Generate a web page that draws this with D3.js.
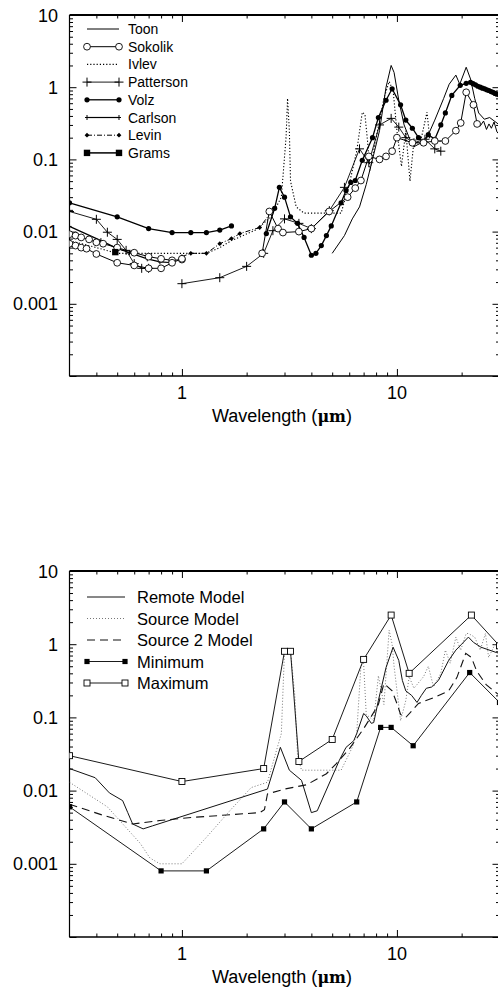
<!DOCTYPE html>
<html><head><meta charset="utf-8">
<script src="https://cdn.jsdelivr.net/npm/d3@7"></script>
<style>
html,body{margin:0;padding:0;background:#fff;}
svg{display:block;}
text{font-family:"Liberation Sans",Arial,Helvetica,sans-serif;fill:#000;}
</style></head><body>
<svg id="c" width="498" height="988"></svg>
<script>
// ---------------- data ----------------
const xDomain = [0.3, 30];
const yDomain = [1e-4, 10];
const xTickLabels = [1, 10];
const yTickLabels = [10, 1, 0.1, 0.01, 0.001];
const axisTitle = "Wavelength (";
const axisUnit = "\u03bcm";

// top panel (wavelength um, imaginary index)
const toon = [[5.0,0.005],[5.7,0.0088],[6.2,0.015],[6.7,0.022],[7.2,0.045],[7.7,0.1],[8.3,0.25],[8.9,1.0],[9.4,2.0],[9.7,1.6],[10.2,0.66],[10.8,0.3],[11.4,0.2],[12.0,0.15],[13.0,0.17],[14.0,0.22],[15.0,0.35],[16.5,0.7],[17.5,1.1],[18.8,1.47],[19.6,1.1],[21.0,1.89],[22.0,1.3],[23.0,0.7],[24.0,0.44],[25.5,0.36],[27.0,0.38],[30.0,0.3]];
const sokolikA = [[0.3,0.0092],[0.32,0.0088],[0.34,0.0083],[0.37,0.0078],[0.4,0.0071],[0.43,0.0068],[0.5,0.006],[0.6,0.0051],[0.7,0.0045],[0.8,0.0042],[0.9,0.004],[1.0,0.0041]];
const sokolikB = [[0.3,0.0068],[0.32,0.0064],[0.34,0.006],[0.36,0.0058],[0.4,0.0049],[0.5,0.0037],[0.6,0.0034],[0.7,0.0031],[0.8,0.0031],[0.9,0.0037],[1.0,0.0042]];
const sokolikIR = [[2.36,0.005],[2.55,0.019],[2.8,0.011],[2.95,0.0097],[3.5,0.01],[4.0,0.011],[4.84,0.019],[5.9,0.03],[6.4,0.04],[6.8,0.051],[7.4,0.11],[8.3,0.1],[8.9,0.11],[9.5,0.13],[10.0,0.2],[11.8,0.17],[13.3,0.17],[15.0,0.18],[16.8,0.18],[18.8,0.25],[19.8,0.32],[21.0,0.85],[22.7,0.57],[23.6,0.31]];
const sokolikTail = [[23.6,0.31],[24.4,0.29],[25.3,0.34],[26.1,0.26],[26.8,0.31],[27.5,0.27],[28.3,0.33],[29.2,0.24],[30.0,0.22]];
const ivlev = [[0.3,0.0075],[0.4,0.006],[0.5,0.005],[0.8,0.005],[1.0,0.005],[1.3,0.005],[1.5,0.006],[1.7,0.0075],[2.2,0.0105],[2.6,0.016],[2.9,0.03],[3.05,0.2],[3.1,0.7],[3.16,0.25],[3.2,0.05],[3.4,0.022],[3.7,0.018],[5.5,0.018],[6.0,0.045],[6.5,0.13],[6.9,0.45],[7.1,0.42],[7.3,0.18],[7.5,0.07],[8.0,0.2],[8.7,0.7],[9.2,1.2],[9.6,0.9],[10.0,0.25],[10.5,0.08],[11.0,0.25],[11.5,0.05],[12.0,0.18],[13.0,0.2],[13.8,0.45],[14.2,0.2],[15.0,0.17],[16.0,0.18]];
const pattersonVis = [[0.3,0.019],[0.4,0.0148],[0.45,0.0098],[0.5,0.0078],[0.55,0.0055],[0.6,0.0036],[0.65,0.0031],[0.7,0.0031]];
const pattersonIR = [[1.0,0.0019],[1.5,0.0023],[2.0,0.0033],[2.4,0.005],[2.65,0.0103],[3.0,0.015],[3.5,0.013],[4.0,0.011],[4.85,0.0195],[5.7,0.041],[6.7,0.14],[7.4,0.09],[8.3,0.3],[9.4,0.37],[10.2,0.28],[11.0,0.2],[12.0,0.17],[13.5,0.19],[15.0,0.14],[16.0,0.13]];
const volzVis = [[0.3,0.025],[0.5,0.016],[0.7,0.011],[0.9,0.0097],[1.1,0.0097],[1.3,0.0097],[1.5,0.0105],[1.7,0.012]];
const volzIR = [[2.47,0.0094],[2.7,0.021],[2.84,0.041],[3.0,0.03],[3.2,0.016],[3.45,0.013],[3.7,0.0083],[4.0,0.0047],[4.2,0.005],[4.45,0.0064],[4.7,0.0088],[4.95,0.012],[5.5,0.025],[5.8,0.037],[6.1,0.048],[6.4,0.051],[6.9,0.097],[7.7,0.2],[8.2,0.38],[8.9,0.66],[9.5,0.95],[10.4,0.57],[11.0,0.35],[11.8,0.27],[12.6,0.2],[13.3,0.17],[14.0,0.22],[15.0,0.19],[16.0,0.3],[16.8,0.44],[18.0,0.77],[19.7,1.06],[21.0,1.13],[22.0,1.17],[22.6,1.12],[23.2,1.08],[23.8,1.03],[24.4,1.0],[25.0,0.97],[25.6,0.95],[26.2,0.92],[26.8,0.9],[27.4,0.87],[28.0,0.85],[28.6,0.82],[29.2,0.8],[30.0,0.78]];
const carlson = [[0.3,0.0118],[0.42,0.0075],[0.49,0.006],[0.57,0.0051],[0.69,0.0042],[0.79,0.0038],[0.91,0.0037]];
const levin = [[1.0,0.0045],[1.1,0.005],[1.3,0.005],[1.5,0.0068],[1.7,0.008],[1.86,0.0094],[2.3,0.0114],[2.6,0.0186]];
const grams = [[0.49,0.0052]];

// bottom panel
const remote = [[0.3,0.02],[0.395,0.015],[0.46,0.0093],[0.53,0.0073],[0.56,0.005],[0.59,0.0035],[0.66,0.003],[0.73,0.0033],[2.5,0.0105],[2.87,0.039],[3.16,0.019],[3.6,0.0138],[4.0,0.005],[4.26,0.0053],[5.4,0.026],[5.8,0.039],[6.3,0.048],[6.5,0.06],[7.0,0.113],[7.2,0.105],[7.6,0.083],[7.8,0.085],[8.2,0.17],[8.9,0.48],[9.6,0.91],[10.2,0.6],[10.6,0.32],[11.0,0.23],[11.7,0.2],[12.4,0.16],[13.0,0.2],[13.7,0.25],[14.5,0.26],[15.6,0.32],[17.4,0.6],[18.8,0.83],[20.0,1.0],[21.5,1.25],[22.7,1.06],[24.6,0.91],[29.0,0.77],[30.0,0.75]];
const source = [[0.3,0.013],[0.45,0.006],[0.64,0.0019],[0.71,0.0012],[0.79,0.001],[1.0,0.001],[1.3,0.0023],[1.67,0.0053],[2.1,0.011],[2.5,0.013],[2.75,0.035],[2.9,0.06],[3.0,0.8],[3.2,0.8],[3.35,0.2],[3.45,0.03],[3.6,0.019],[5.5,0.019],[6.2,0.039],[6.5,0.06],[6.8,0.5],[7.0,0.55],[7.2,0.11],[7.8,0.09],[8.2,0.37],[8.7,0.15],[9.2,1.55],[9.5,1.0],[9.7,0.5],[10.4,0.09],[11.0,0.17],[11.4,0.36],[12.0,0.25],[13.3,0.36],[14.0,0.5],[14.8,0.26],[16.0,0.4],[16.8,0.83],[17.7,0.55],[18.8,1.25],[19.8,0.83],[21.0,1.4],[21.5,1.4],[23.0,1.25],[24.4,0.83],[25.8,1.4],[26.7,0.66],[28.6,1.0],[30.0,0.8]];
const source2 = [[0.3,0.0065],[0.43,0.0046],[0.59,0.0035],[0.79,0.0039],[1.12,0.0043],[2.3,0.005],[2.42,0.0055],[2.5,0.009],[3.0,0.0105],[3.8,0.012],[4.7,0.017],[5.2,0.023],[6.0,0.037],[7.0,0.07],[7.7,0.11],[8.2,0.15],[8.7,0.29],[9.5,0.23],[10.0,0.155],[10.4,0.11],[11.0,0.1],[12.6,0.155],[15.1,0.19],[17.4,0.23],[19.0,0.35],[20.9,0.75],[22.2,0.66],[23.5,0.43],[26.0,0.28],[30.0,0.2]];
const minimum = [[0.3,0.006],[0.8,0.0008],[1.3,0.0008],[2.4,0.003],[3.0,0.007],[4.0,0.003],[6.5,0.007],[8.4,0.073],[9.4,0.073],[11.9,0.041],[21.8,0.41],[30.0,0.16]];
const maximum = [[0.3,0.03],[1.0,0.0133],[2.4,0.02],[3.0,0.8],[3.2,0.8],[3.5,0.025],[5.0,0.05],[7.0,0.62],[9.4,2.5],[11.4,0.4],[22.2,2.5],[30.0,0.95]];

const topNames = ["Toon","Sokolik","Ivlev","Patterson","Volz","Carlson","Levin","Grams"];
const botNames = ["Remote Model","Source Model","Source 2 Model","Minimum","Maximum"];

// ---------------- drawing ----------------
const svg = d3.select("#c");
const xL = 69.5, xR = 499.5;
const x = d3.scaleLog().domain(xDomain).range([xL, xR]);

const styles = {
  "Toon":      {dash:null, w:1, marker:null},
  "Sokolik":   {dash:null, w:1, marker:"ocircle"},
  "Ivlev":     {dash:"1.2,2", w:1.1, marker:null},
  "Patterson": {dash:null, w:0.9, marker:"plus"},
  "Volz":      {dash:null, w:1.3, marker:"dot"},
  "Carlson":   {dash:null, w:1.2, marker:"tick"},
  "Levin":     {dash:"5,2,1,2", w:1, marker:"diamond"},
  "Grams":     {dash:null, w:1.5, marker:"fsquare"},
  "Remote Model":   {dash:null, w:1, marker:null, color:"#111"},
  "Source Model":   {dash:"1,2", w:1, marker:null, color:"#777"},
  "Source 2 Model": {dash:"8,5", w:1.1, marker:null, color:"#111"},
  "Minimum":        {dash:null, w:0.9, marker:"fsq5"},
  "Maximum":        {dash:null, w:0.9, marker:"osquare"}
};

function drawMarker(g, type, px, py) {
  if (!type) return;
  if (type === "ocircle") g.append("circle").attr("cx",px).attr("cy",py).attr("r",3.4).attr("fill","#fff").attr("stroke","#000").attr("stroke-width",0.9);
  else if (type === "dot") g.append("circle").attr("cx",px).attr("cy",py).attr("r",2.6).attr("fill","#000");
  else if (type === "plus") g.append("path").attr("d",`M${px-4.5},${py}H${px+4.5}M${px},${py-4.5}V${py+4.5}`).attr("stroke","#000").attr("stroke-width",1);
  else if (type === "tick") g.append("path").attr("d",`M${px-2},${py}H${px+2}M${px},${py-2.5}V${py+2.5}`).attr("stroke","#000").attr("stroke-width",1);
  else if (type === "diamond") g.append("path").attr("d",`M${px},${py-2.4}L${px+2.4},${py}L${px},${py+2.4}L${px-2.4},${py}Z`).attr("fill","#000");
  else if (type === "fsquare") g.append("rect").attr("x",px-3.2).attr("y",py-3.2).attr("width",6.4).attr("height",6.4).attr("fill","#000");
  else if (type === "fsq5") g.append("rect").attr("x",px-2.6).attr("y",py-2.6).attr("width",5.2).attr("height",5.2).attr("fill","#000");
  else if (type === "osquare") g.append("rect").attr("x",px-3).attr("y",py-3).attr("width",6).attr("height",6).attr("fill","#fff").attr("stroke","#000").attr("stroke-width",0.9);
}

function drawSeries(g, y, data, name, markers=true) {
  const st = styles[name];
  const line = d3.line().x(d => x(d[0])).y(d => y(d[1]));
  if (data.length > 1) {
    g.append("path").datum(data).attr("d", line).attr("fill","none")
      .attr("stroke", st.color || "#000").attr("stroke-width", st.w)
      .attr("stroke-dasharray", st.dash);
  }
  if (markers && st.marker) data.forEach(d => drawMarker(g, st.marker, x(d[0]), y(d[1])));
}

function minorTicks(lo, hi) {
  const out = [];
  for (let e = Math.floor(Math.log10(lo)); e <= Math.ceil(Math.log10(hi)); e++) {
    for (let m = 2; m <= 9; m++) {
      const v = m * Math.pow(10, e);
      if (v > lo * 1.0001 && v < hi * 0.9999) out.push(v);
    }
  }
  return out;
}

function drawPanel(yTop, yBot, id) {
  const y = d3.scaleLog().domain(yDomain).range([yBot, yTop]);
  const g = svg.append("g");
  g.append("clipPath").attr("id", id).append("rect")
    .attr("x", xL).attr("y", yTop).attr("width", xR - xL).attr("height", yBot - yTop);

  const yMaj = [1e-4,1e-3,1e-2,1e-1,1,10], yMin = minorTicks(1e-4, 10);
  const xMaj = [1,10], xMin = minorTicks(0.3, 30);

  function ax(gen, scale, vals, size, tx, ty) {
    const a = g.append("g").attr("transform", `translate(${tx},${ty})`)
      .call(gen(scale).tickValues(vals).tickSize(size).tickSizeOuter(0).tickFormat(""));
    a.selectAll("line").attr("stroke","#000").attr("stroke-width",1);
    a.select(".domain").remove();
  }
  ax(d3.axisLeft, y, yMaj, -7, xL, 0);
  ax(d3.axisLeft, y, yMin, -3.5, xL, 0);
  ax(d3.axisRight, y, yMaj, -7, xR, 0);
  ax(d3.axisRight, y, yMin, -3.5, xR, 0);
  ax(d3.axisBottom, x, xMaj, -7, 0, yBot);
  ax(d3.axisBottom, x, xMin, -3.5, 0, yBot);
  ax(d3.axisTop, x, xMaj, -7, 0, yTop);
  ax(d3.axisTop, x, xMin, -3.5, 0, yTop);

  // frame
  g.append("line").attr("x1",xL).attr("x2",xL).attr("y1",yTop).attr("y2",yBot).attr("stroke","#000").attr("stroke-width",1.2);
  g.append("line").attr("x1",xR).attr("x2",xR).attr("y1",yTop).attr("y2",yBot).attr("stroke","#000").attr("stroke-width",1.2);
  g.append("line").attr("x1",xL).attr("x2",xR).attr("y1",yBot).attr("y2",yBot).attr("stroke","#000").attr("stroke-width",1.4);
  g.append("line").attr("x1",xL).attr("x2",xR).attr("y1",yTop).attr("y2",yTop).attr("stroke","#000").attr("stroke-width",2);

  // labels
  g.selectAll(".yl").data(yTickLabels).join("text")
    .attr("x", 58).attr("y", d => y(d) + 6.5).attr("text-anchor","end")
    .attr("font-size", 18).text(d => String(d));
  g.selectAll(".xl").data(xTickLabels).join("text")
    .attr("x", d => x(d)).attr("y", yBot + 23).attr("text-anchor","middle")
    .attr("font-size", 18).text(d => String(d));
  const t = g.append("text").attr("x", 282).attr("y", yBot + 46).attr("text-anchor","middle").attr("font-size", 18);
  t.append("tspan").text(axisTitle);
  t.append("tspan").attr("font-family","'DejaVu Serif','Liberation Serif',serif").attr("font-weight","bold").attr("font-size",16).text(axisUnit);
  t.append("tspan").text(")");

  const plot = g.append("g").attr("clip-path", `url(#${id})`);
  return {y, plot, g};
}

// top panel
const P1 = drawPanel(15, 376, "clipTop");
drawSeries(P1.plot, P1.y, toon, "Toon");
drawSeries(P1.plot, P1.y, ivlev, "Ivlev");
drawSeries(P1.plot, P1.y, carlson, "Carlson");
drawSeries(P1.plot, P1.y, levin, "Levin");
drawSeries(P1.plot, P1.y, pattersonVis, "Patterson");
drawSeries(P1.plot, P1.y, pattersonIR, "Patterson");
drawSeries(P1.plot, P1.y, volzVis, "Volz");
drawSeries(P1.plot, P1.y, volzIR, "Volz");
drawSeries(P1.plot, P1.y, sokolikTail, "Sokolik", false);
drawSeries(P1.plot, P1.y, sokolikA, "Sokolik");
drawSeries(P1.plot, P1.y, sokolikB, "Sokolik");
drawSeries(P1.plot, P1.y, sokolikIR, "Sokolik");
drawSeries(P1.plot, P1.y, grams, "Grams");

// top legend
topNames.forEach((n, i) => {
  const yy = 29 + i * 17.7;
  const st = styles[n];
  const lg = P1.g.append("g");
  lg.append("line").attr("x1",87).attr("x2",119).attr("y1",yy).attr("y2",yy)
    .attr("stroke","#000").attr("stroke-width",st.w).attr("stroke-dasharray",st.dash);
  drawMarker(lg, st.marker, 87, yy);
  drawMarker(lg, st.marker, 119, yy);
  lg.append("text").attr("x",128).attr("y",yy+5).attr("font-size",14).text(n);
});

// bottom panel
const P2 = drawPanel(571, 937, "clipBot");
drawSeries(P2.plot, P2.y, source, "Source Model");
drawSeries(P2.plot, P2.y, source2, "Source 2 Model");
drawSeries(P2.plot, P2.y, remote, "Remote Model");
drawSeries(P2.plot, P2.y, minimum, "Minimum");
drawSeries(P2.plot, P2.y, maximum, "Maximum");

botNames.forEach((n, i) => {
  const yy = 597 + i * 21.5;
  const st = styles[n];
  const lg = P2.g.append("g");
  lg.append("line").attr("x1",87).attr("x2",125).attr("y1",yy).attr("y2",yy)
    .attr("stroke",st.color || "#000").attr("stroke-width",st.w).attr("stroke-dasharray",st.dash);
  drawMarker(lg, st.marker, 87, yy);
  drawMarker(lg, st.marker, 125, yy);
  lg.append("text").attr("x",137).attr("y",yy+6).attr("font-size",16.5).text(n);
});
</script>
</body></html>
